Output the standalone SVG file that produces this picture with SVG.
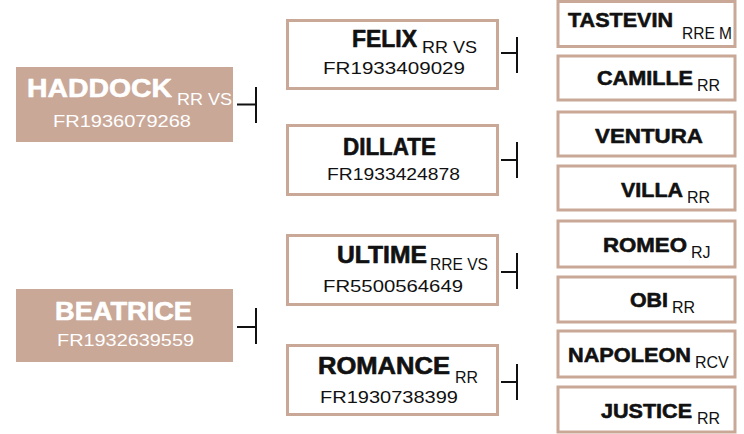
<svg xmlns="http://www.w3.org/2000/svg" width="744" height="434" viewBox="0 0 744 434">
<style>
.fill{fill:#c9a898}
.box{fill:#ffffff;stroke:#c9a898;stroke-width:3}
.t{font-family:"Liberation Sans",Arial,sans-serif}
.b{font-weight:bold;stroke-width:0.6;stroke-linejoin:round}
.w{fill:#ffffff}
.b.w{stroke:#ffffff}
.k{fill:#111111}
.b.k{stroke:#111111}
.big{font-size:26px}
.mid{font-size:23px}
.sm{font-size:21px}
.id{font-size:16.5px}
.sfx{font-size:17px}
.sfx2{font-size:16px}
.c{stroke:#111111;stroke-width:2;fill:none}
</style>
<g id="connectors">
<path class="c" d="M237 104.5H256M256 87V123"/>
<path class="c" d="M237 327H256M256 308V344"/>
<path class="c" d="M501 53H517M517 37V73"/>
<path class="c" d="M501 160H517M517 142V178"/>
<path class="c" d="M501 272H517M517 253V289"/>
<path class="c" d="M501 382H517M517 364V400"/>
</g>
<g id="haddock">
<rect class="fill" x="16" y="67" width="217" height="75"/>
<text class="t b w big" x="27" y="97" textLength="145" lengthAdjust="spacingAndGlyphs">HADDOCK</text>
<text class="t w sfx" x="177" y="105" font-size="18" textLength="55" lengthAdjust="spacingAndGlyphs">RR VS</text>
<text class="t w id" x="53" y="127" textLength="138" lengthAdjust="spacingAndGlyphs">FR1936079268</text>
</g>
<g id="beatrice">
<rect class="fill" x="16" y="289" width="217" height="73"/>
<text class="t b w big" x="55" y="319.5" textLength="137" lengthAdjust="spacingAndGlyphs">BEATRICE</text>
<text class="t w id" x="57" y="346" textLength="137" lengthAdjust="spacingAndGlyphs">FR1932639559</text>
</g>
<g id="felix">
<rect class="box" x="287.5" y="20.5" width="210" height="68"/>
<text class="t b k mid" x="352" y="47" textLength="65" lengthAdjust="spacingAndGlyphs">FELIX</text>
<text class="t k sfx" x="422" y="52.7" textLength="55" lengthAdjust="spacingAndGlyphs">RR VS</text>
<text class="t k id" x="323" y="73.5" textLength="142" lengthAdjust="spacingAndGlyphs">FR1933409029</text>
</g>
<g id="dillate">
<rect class="box" x="287.5" y="125.5" width="210" height="69"/>
<text class="t b k mid" x="343" y="155" textLength="93" lengthAdjust="spacingAndGlyphs">DILLATE</text>
<text class="t k id" x="327" y="180" textLength="133" lengthAdjust="spacingAndGlyphs">FR1933424878</text>
</g>
<g id="ultime">
<rect class="box" x="287.5" y="235.5" width="210" height="69"/>
<text class="t b k mid" x="337" y="263.3" textLength="90" lengthAdjust="spacingAndGlyphs">ULTIME</text>
<text class="t k sfx" x="430" y="270" textLength="58" lengthAdjust="spacingAndGlyphs">RRE VS</text>
<text class="t k id" x="323" y="291.7" textLength="140" lengthAdjust="spacingAndGlyphs">FR5500564649</text>
</g>
<g id="romance">
<rect class="box" x="287.5" y="345.5" width="210" height="69"/>
<text class="t b k mid" x="318" y="374" textLength="132" lengthAdjust="spacingAndGlyphs">ROMANCE</text>
<text class="t k sfx" x="455" y="382.7" textLength="23" lengthAdjust="spacingAndGlyphs">RR</text>
<text class="t k id" x="320" y="403" textLength="138" lengthAdjust="spacingAndGlyphs">FR1930738399</text>
</g>
<g id="tastevin">
<rect class="box" x="558" y="1.5" width="177" height="45"/>
<text class="t b k sm" x="568" y="26.7" textLength="105" lengthAdjust="spacingAndGlyphs">TASTEVIN</text>
<text class="t k sfx2" x="682" y="39.3" font-size="15" textLength="50" lengthAdjust="spacingAndGlyphs">RRE M</text>
</g>
<g id="camille">
<rect class="box" x="558" y="56" width="177" height="44"/>
<text class="t b k sm" x="597" y="85" textLength="96" lengthAdjust="spacingAndGlyphs">CAMILLE</text>
<text class="t k sfx2" x="697" y="91">RR</text>
</g>
<g id="ventura">
<rect class="box" x="558" y="112" width="177" height="44"/>
<text class="t b k sm" x="595" y="143" textLength="108" lengthAdjust="spacingAndGlyphs">VENTURA</text>
</g>
<g id="villa">
<rect class="box" x="558" y="166" width="177" height="44"/>
<text class="t b k sm" x="621" y="197" textLength="62" lengthAdjust="spacingAndGlyphs">VILLA</text>
<text class="t k sfx2" x="687" y="203">RR</text>
</g>
<g id="romeo">
<rect class="box" x="558" y="221" width="177" height="46"/>
<text class="t b k sm" x="603" y="252" textLength="84" lengthAdjust="spacingAndGlyphs">ROMEO</text>
<text class="t k sfx2" x="691" y="258">RJ</text>
</g>
<g id="obi">
<rect class="box" x="558" y="277" width="177" height="45"/>
<text class="t b k sm" x="630" y="307" textLength="38" lengthAdjust="spacingAndGlyphs">OBI</text>
<text class="t k sfx2" x="672" y="313">RR</text>
</g>
<g id="napoleon">
<rect class="box" x="558" y="331" width="177" height="46"/>
<text class="t b k sm" x="568" y="362" textLength="123" lengthAdjust="spacingAndGlyphs">NAPOLEON</text>
<text class="t k sfx2" x="695" y="368">RCV</text>
</g>
<g id="justice">
<rect class="box" x="558" y="387" width="177" height="45"/>
<text class="t b k sm" x="601" y="418" textLength="91" lengthAdjust="spacingAndGlyphs">JUSTICE</text>
<text class="t k sfx2" x="697" y="424">RR</text>
</g>
</svg>
